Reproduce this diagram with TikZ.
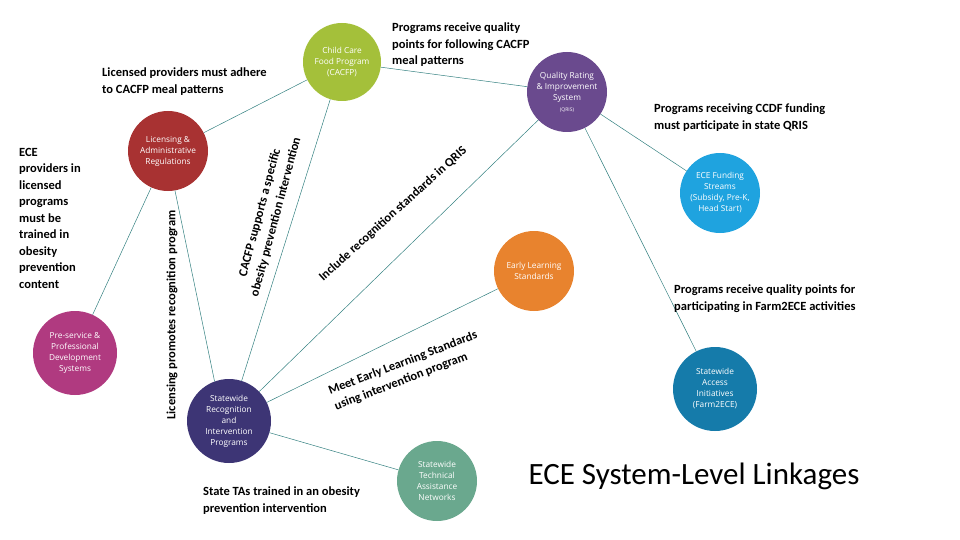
\documentclass[tikz,border=0pt]{standalone}
\usepackage{fontspec}
\setmainfont{Carlito}
\newfontfamily\circfont{Open Sans}
\begin{document}
\begin{tikzpicture}[x=1pt,y=-1pt,
  circ/.style={circle,minimum size=#1,inner sep=0pt,align=center,text=white,font=\circfont\fontsize{8.3}{11}\selectfont},
  circ/.default=80,
  link/.style={draw=teal!60!gray,line width=0.5pt},
  note/.style={font=\bfseries\fontsize{12.5}{16.5}\selectfont,align=left,inner sep=0pt},
  ttl/.style={font=\fontsize{31}{36}\selectfont,inner sep=0pt}]
\useasboundingbox (0,0) rectangle (960,540);
\definecolor{cGreen}{HTML}{A4C03A}\definecolor{cPurple}{HTML}{6A4A8E}
\definecolor{cRed}{HTML}{A83232}\definecolor{cBlue}{HTML}{1FA3DF}
\definecolor{cOrange}{HTML}{E8832E}\definecolor{cMag}{HTML}{B03A80}
\definecolor{cNavy}{HTML}{3D3575}\definecolor{cTeal}{HTML}{157BAA}
\definecolor{cSea}{HTML}{6AA88E}
\node[circ=78,fill=cGreen] (cacfp) at (342,62) {Child Care\\Food Program\\(CACFP)};
\node[circ=80,fill=cPurple] (qris) at (567,92) {Quality Rating\\\& Improvement\\System\\{\tiny(QRIS)}};
\node[circ=80,fill=cRed] (lic) at (168,151) {Licensing \&\\Administrative\\Regulations};
\node[circ=80,fill=cBlue] (fund) at (720,193) {ECE Funding\\Streams\\(Subsidy, Pre-K,\\Head Start)};
\node[circ=80,fill=cOrange] (els) at (534,271) {Early Learning\\Standards};
\node[circ=84,fill=cMag] (pre) at (75,353) {Pre-service \&\\Professional\\Development\\Systems};
\node[circ=84,fill=cNavy] (rec) at (229,421) {Statewide\\Recognition\\and\\Intervention\\Programs};
\node[circ=84,fill=cTeal] (acc) at (715,389) {Statewide\\Access\\Initiatives\\(Farm2ECE)};
\node[circ=80,fill=cSea] (ta) at (437,481) {Statewide\\Technical\\Assistance\\Networks};
\draw[link] (cacfp) -- (lic);
\draw[link] (cacfp) -- (qris);
\draw[link] (cacfp) -- (rec);
\draw[link] (lic) -- (pre);
\draw[link] (lic.-80) -- (rec.110);
\draw[link] (qris) -- (rec);
\draw[link] (qris) -- (fund);
\draw[link] (qris) -- (acc);
\draw[link] (els) -- (rec);
\draw[link] (rec) -- (ta);
\node[note,anchor=north west] (n1) at (102,68) {Licensed providers must adhere\\to CACFP meal patterns};
\node[note,anchor=north west] (n2) at (392,23) {Programs receive quality\\points for following CACFP\\meal patterns};
\node[note,anchor=north west] (n3) at (654,104) {Programs receiving CCDF funding\\must participate in state QRIS};
\node[note,anchor=north west] (n4) at (19,148) {ECE\\providers in\\licensed\\programs\\must be\\trained in\\obesity\\prevention\\content};
\node[note,anchor=north west] (n5) at (674,285) {Programs receive quality points for\\participating in Farm2ECE activities};
\node[note,anchor=north west] (n6) at (203,487) {State TAs trained in an obesity\\prevention intervention};
\node[note,rotate=90] (r1) at (172,315) {Licensing promotes recognition program};
\node[note,rotate=75,align=center] (r2) at (268,215) {CACFP supports a specific\\obesity prevention intervention};
\node[note,rotate=42] (r3) at (393,214) {Include recognition standards in QRIS};
\node[note,rotate=21,align=left] (r4) at (406,371) {Meet Early Learning Standards\\using intervention program};
\node[ttl] (t) at (694,476) {ECE System-Level Linkages};
\end{tikzpicture}
\end{document}
